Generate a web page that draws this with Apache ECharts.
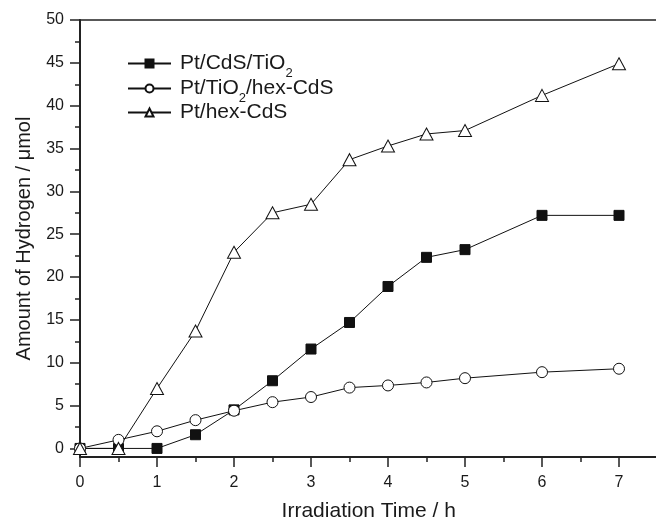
<!DOCTYPE html>
<html>
<head>
<meta charset="utf-8">
<title>Hydrogen evolution</title>
<script src="https://cdn.jsdelivr.net/npm/echarts@6/dist/echarts.min.js"></script>
</head>
<body style="margin:0;background:#fff">
<div id="main" style="width:656px;height:518px;"></div>
<script type="text/javascript">
// irradiation time (h)
var hours = [0, 0.5, 1, 1.5, 2, 2.5, 3, 3.5, 4, 4.5, 5, 6, 7];
// amount of hydrogen (umol)
var cdsTio2    = [0, 0, 0, 1.6, 4.5, 7.9, 11.6, 14.7, 18.9, 22.3, 23.2, 27.2, 27.2];
var tio2HexCds = [0, 1.0, 2.0, 3.3, 4.4, 5.4, 6.0, 7.1, 7.35, 7.7, 8.2, 8.9, 9.3];
var hexCds     = [0, 0, 7.0, 13.7, 22.9, 27.5, 28.5, 33.7, 35.3, 36.7, 37.1, 41.2, 44.9];
var names = ['Pt/CdS/TiO2', 'Pt/TiO2/hex-CdS', 'Pt/hex-CdS'];
// ticks
var xTicks = [0, 1, 2, 3, 4, 5, 6, 7];
var xMinor = [0.5, 1.5, 2.5, 3.5, 4.5, 5.5, 6.5, 7.5];
var yTicks = [0, 5, 10, 15, 20, 25, 30, 35, 40, 45, 50];
var yMinor = [2.5, 7.5, 12.5, 17.5, 22.5, 27.5, 32.5, 37.5, 42.5, 47.5];

var FONT = '"Liberation Sans", Arial, sans-serif';
var INK = '#1a1a1a';

function pairs(vals) {
    return hours.map(function (h, i) { return [h, vals[i]]; });
}

function legendFor(name, top) {
    return {
        data: [name],
        top: top,
        left: 127,
        padding: 0,
        orient: 'vertical',
        itemWidth: 43,
        itemHeight: 10,
        selectedMode: false,
        formatter: function (n) { return n.replace(/TiO2/g, 'TiO{s|2}'); },
        textStyle: {
            fontSize: 21,
            color: INK,
            fontFamily: FONT,
            padding: [0, 0, 0, 4],
            rich: {
                s: { fontSize: 13, color: INK, fontFamily: FONT, padding: [20, 0, 0, 0] }
            }
        }
    };
}

var chart = echarts.init(document.getElementById('main'));
var option = {
    animation: false,
    backgroundColor: '#fff',
    grid: {
        left: 80, top: 20, right: -1.5, bottom: 61,
        outerBoundsMode: 'none', containLabel: false,
        show: true, borderColor: '#222', borderWidth: 1.5, backgroundColor: 'transparent'
    },
    legend: [
        legendFor(names[0], 53),
        legendFor(names[1], 78),
        legendFor(names[2], 102)
    ],
    xAxis: [{
        type: 'value', min: 0, max: 7.5, position: 'bottom',
        name: 'Irradiation Time / h', nameLocation: 'middle', nameGap: 44,
        nameTextStyle: { fontSize: 21, color: INK, fontFamily: FONT },
        axisLine: { show: true, onZero: false, lineStyle: { color: '#222', width: 2 } },
        axisTick: { show: true, customValues: xTicks, length: 10, lineStyle: { color: '#222', width: 1.5 } },
        axisLabel: { customValues: xTicks, fontSize: 16, margin: 18, color: INK, fontFamily: FONT },
        splitLine: { show: false }
    }, {
        type: 'value', min: 0, max: 7.5, position: 'bottom',
        axisLine: { show: false, onZero: false },
        axisTick: { show: true, customValues: xMinor, length: 5, lineStyle: { color: '#222', width: 1.5 } },
        axisLabel: { show: false },
        splitLine: { show: false }
    }],
    yAxis: [{
        type: 'value', min: -1, max: 50, position: 'left',
        name: 'Amount of Hydrogen / \u03bcmol', nameLocation: 'middle', nameGap: 46,
        nameTextStyle: { fontSize: 20, color: INK, fontFamily: FONT },
        axisLine: { show: true, onZero: false, lineStyle: { color: '#222', width: 2 } },
        axisTick: { show: true, customValues: yTicks, length: 10, lineStyle: { color: '#222', width: 1.5 } },
        axisLabel: { customValues: yTicks, fontSize: 16, margin: 16, color: INK, fontFamily: FONT },
        splitLine: { show: false }
    }, {
        type: 'value', min: -1, max: 50, position: 'left',
        axisLine: { show: false, onZero: false },
        axisTick: { show: true, customValues: yMinor, length: 5, lineStyle: { color: '#222', width: 1.5 } },
        axisLabel: { show: false },
        splitLine: { show: false }
    }],
    series: [{
        name: names[0], type: 'line', data: pairs(cdsTio2),
        symbol: 'rect', symbolSize: 10,
        lineStyle: { color: '#111', width: 1 },
        itemStyle: { color: '#111', borderColor: '#111', borderWidth: 1 }
    }, {
        name: names[1], type: 'line', data: pairs(tio2HexCds),
        symbol: 'circle', symbolSize: 11,
        lineStyle: { color: '#111', width: 1 },
        itemStyle: { color: '#fff', borderColor: '#111', borderWidth: 1 }
    }, {
        name: names[2], type: 'line', data: pairs(hexCds),
        symbol: 'triangle', symbolSize: [13, 12],
        lineStyle: { color: '#111', width: 1 },
        itemStyle: { color: '#fff', borderColor: '#111', borderWidth: 1 }
    }]
};
chart.setOption(option);
</script>
</body>
</html>
